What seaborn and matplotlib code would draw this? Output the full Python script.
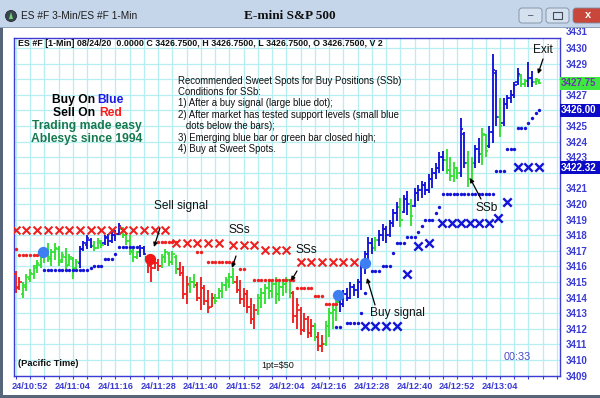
import numpy as np
import pandas as pd
import matplotlib
matplotlib.use("Agg")
import matplotlib.pyplot as plt
import matplotlib.transforms as mtrans
from matplotlib.patches import Rectangle, FancyBboxPatch, Circle, Polygon
import seaborn as sns

# ---------------- data ----------------
bar_high = [3415.7, 3415.3, 3415.0, 3415.5, 3415.8, 3416.1, 3416.4, 3416.8, 3417.0, 3417.5,
            3417.1, 3417.5, 3417.3, 3416.9, 3417.2, 3416.8, 3416.6, 3416.5, 3417.3, 3417.6,
            3418.0, 3417.8, 3417.6, 3417.8, 3417.7, 3418.0, 3418.1, 3418.2, 3418.3, 3418.8,
            3418.5, 3418.2, 3418.0, 3417.2, 3417.0, 3417.4, 3417.3, 3416.7, 3416.7, 3416.4,
            3416.5, 3416.8, 3417.1, 3416.9, 3417.0, 3416.7, 3416.3, 3416.0, 3415.4, 3415.3,
            3415.5, 3415.0, 3415.3, 3414.8, 3414.5, 3414.3, 3414.2, 3414.6, 3415.0, 3415.3,
            3415.6, 3415.9, 3415.4, 3415.1, 3414.6, 3414.5, 3414.0, 3413.6, 3414.2, 3414.6,
            3414.9, 3415.2, 3415.1, 3415.3, 3415.0, 3415.2, 3415.3, 3415.2, 3414.4, 3414.0,
            3413.4, 3413.0, 3412.8, 3412.6, 3412.4, 3411.8, 3411.6, 3412.5, 3413.3, 3413.6,
            3413.9, 3414.2, 3414.5, 3414.6, 3415.0, 3414.9, 3415.2, 3416.2, 3417.0, 3417.9,
            3417.8, 3417.9, 3418.3, 3418.7, 3418.6, 3419.0, 3419.7, 3420.1, 3420.4, 3420.6,
            3420.8, 3420.3, 3421.0, 3421.2, 3421.5, 3421.4, 3421.9, 3422.3, 3422.6, 3423.3,
            3423.4, 3423.5, 3423.0, 3422.7, 3422.4, 3425.5, 3424.6, 3423.4, 3423.0, 3423.8,
            3424.2, 3424.9, 3424.5, 3425.0, 3429.6, 3428.6, 3426.8, 3426.8, 3427.0, 3427.3,
            3427.8, 3428.7, 3428.3, 3428.0, 3429.1, 3428.5, 3428.1, 3428.0]
bar_low = [3414.3, 3414.5, 3414.0, 3414.4, 3415.0, 3415.2, 3415.6, 3415.9, 3416.2, 3416.3,
           3416.0, 3416.4, 3416.0, 3416.2, 3415.8, 3416.0, 3415.2, 3415.8, 3415.9, 3417.0,
           3417.1, 3417.2, 3417.0, 3417.1, 3417.2, 3417.4, 3417.3, 3417.5, 3417.6, 3418.0,
           3417.8, 3417.4, 3416.7, 3416.3, 3416.5, 3416.6, 3416.7, 3415.6, 3415.0, 3415.8,
           3415.7, 3415.9, 3416.2, 3416.0, 3416.1, 3415.5, 3415.4, 3413.9, 3413.6, 3414.3,
           3414.6, 3413.8, 3413.2, 3413.5, 3413.0, 3413.4, 3413.6, 3413.9, 3414.0, 3414.4,
           3414.6, 3414.9, 3414.3, 3413.6, 3413.4, 3413.0, 3412.3, 3412.0, 3412.9, 3413.3,
           3413.6, 3413.9, 3414.0, 3413.6, 3413.8, 3414.1, 3414.3, 3414.0, 3412.4, 3412.0,
           3411.6, 3411.8, 3411.4, 3411.5, 3411.2, 3410.6, 3410.5, 3410.9, 3411.5, 3412.0,
           3412.5, 3413.1, 3413.4, 3413.8, 3413.9, 3414.1, 3414.0, 3414.5, 3415.5, 3416.3,
           3416.8, 3417.0, 3417.3, 3417.6, 3417.5, 3417.9, 3418.5, 3418.9, 3418.5, 3419.4,
           3419.3, 3418.6, 3419.8, 3420.2, 3420.4, 3420.6, 3420.7, 3421.0, 3421.6, 3422.0,
           3422.1, 3421.9, 3421.5, 3421.4, 3421.6, 3421.7, 3422.3, 3421.1, 3421.4, 3422.3,
           3422.6, 3422.5, 3423.0, 3423.6, 3423.9, 3425.0, 3424.3, 3425.0, 3426.1, 3426.5,
           3426.8, 3427.6, 3427.5, 3427.5, 3427.5, 3427.5, 3427.6, 3427.7]
bar_open = [3415.5, 3414.7, 3414.2, 3414.7, 3415.2, 3415.5, 3415.9, 3416.1, 3416.6, 3416.8,
            3416.5, 3416.9, 3417.1, 3416.4, 3416.6, 3416.1, 3416.5, 3415.9, 3416.2, 3417.1,
            3417.4, 3417.7, 3417.3, 3417.2, 3417.5, 3417.5, 3417.8, 3417.6, 3418.0, 3418.1,
            3418.4, 3418.0, 3417.6, 3416.9, 3416.6, 3416.9, 3417.2, 3416.6, 3416.0, 3415.9,
            3416.2, 3416.0, 3416.6, 3416.8, 3416.3, 3416.6, 3415.8, 3415.6, 3414.2, 3414.8,
            3415.0, 3414.8, 3414.0, 3414.6, 3413.8, 3413.4, 3414.0, 3414.0, 3414.4, 3414.8,
            3415.0, 3415.3, 3415.0, 3414.5, 3413.9, 3414.2, 3413.4, 3412.6, 3413.2, 3414.0,
            3414.3, 3414.6, 3414.4, 3414.9, 3414.2, 3414.7, 3414.9, 3415.1, 3414.3, 3412.8,
            3413.2, 3411.9, 3412.6, 3411.7, 3412.2, 3411.5, 3410.9, 3411.0, 3412.2, 3413.0,
            3413.2, 3413.7, 3413.6, 3414.2, 3414.0, 3414.7, 3414.5, 3415.0, 3416.0, 3416.8,
            3417.5, 3417.2, 3417.7, 3418.0, 3418.4, 3418.0, 3418.8, 3419.4, 3419.8, 3419.5,
            3420.3, 3420.0, 3419.9, 3420.7, 3420.9, 3421.2, 3420.9, 3421.6, 3422.0, 3422.3,
            3423.0, 3422.8, 3422.2, 3421.8, 3422.3, 3422.0, 3424.5, 3422.6, 3421.6, 3422.6,
            3423.5, 3423.2, 3424.4, 3423.7, 3424.6, 3428.4, 3425.6, 3425.2, 3426.4, 3426.8,
            3427.0, 3427.8, 3428.2, 3427.7, 3427.9, 3428.1, 3427.8, 3427.9]
bar_close = [3414.6, 3415.0, 3414.8, 3415.3, 3415.6, 3416.0, 3416.2, 3416.6, 3416.8, 3416.6,
             3416.9, 3417.2, 3416.3, 3416.7, 3416.0, 3416.6, 3415.8, 3416.3, 3417.1, 3417.5,
             3417.8, 3417.3, 3417.2, 3417.6, 3417.4, 3417.9, 3417.6, 3418.0, 3418.1, 3418.6,
             3418.0, 3417.6, 3417.0, 3416.6, 3416.9, 3417.2, 3416.8, 3416.0, 3415.9, 3416.2,
             3416.0, 3416.6, 3416.9, 3416.3, 3416.8, 3415.8, 3415.6, 3414.2, 3414.9, 3415.0,
             3414.8, 3414.0, 3414.6, 3413.8, 3413.3, 3414.0, 3413.8, 3414.4, 3414.8, 3415.1,
             3415.3, 3415.0, 3414.5, 3413.9, 3414.2, 3413.4, 3412.6, 3413.2, 3414.0, 3414.3,
             3414.6, 3414.4, 3414.9, 3414.2, 3414.7, 3414.9, 3415.1, 3414.3, 3412.8, 3413.5,
             3411.9, 3412.6, 3411.7, 3412.2, 3411.5, 3410.9, 3411.0, 3412.2, 3413.0, 3413.2,
             3413.7, 3413.6, 3414.2, 3414.0, 3414.7, 3414.5, 3415.0, 3416.0, 3416.8, 3417.5,
             3417.2, 3417.7, 3418.0, 3418.4, 3418.0, 3418.8, 3419.4, 3419.8, 3419.0, 3420.3,
             3420.0, 3419.2, 3420.7, 3420.9, 3421.2, 3420.9, 3421.6, 3422.0, 3422.3, 3423.0,
             3422.8, 3422.2, 3421.8, 3422.3, 3422.0, 3424.8, 3422.6, 3421.6, 3422.6, 3423.5,
             3423.2, 3424.5, 3423.4, 3424.6, 3428.6, 3425.6, 3425.0, 3426.4, 3426.8, 3427.0,
             3427.6, 3428.3, 3427.7, 3427.9, 3428.1, 3427.8, 3428.0, 3427.75]
bar_color = list("rrgggggggg" "ggggggggbb" "bbgggbbbbb" "gggggbbrrr" "rgggggrrrg"
                 "grrrrrgggg" "ggrrrrrrgg" "ggggggggrr" "rrrrgrrggg" "gbbbbbbbbb"
                 "bgbbbbbbgb" "bgbbbbbbbb" "bggggbbggb" "bggbbbgbbb" "bbggbbgg")

# small support dots (blue) and resistance dots (red): minute index, price
support_x = [8, 9, 10, 11, 12, 13, 14, 15, 16, 17, 18, 19, 20, 21, 22, 23, 24, 25, 26, 27, 28,
             29, 30, 31, 32, 33, 34, 90, 91, 93, 94, 95, 96, 97, 98, 100, 101, 102, 103, 104, 105,
             106, 107, 108, 109, 110, 111, 112, 113, 114, 115, 116, 117, 118, 119, 120, 121, 122,
             123, 124, 125, 126, 127, 128, 129, 130, 131, 132, 133, 134, 135, 136, 137, 138, 139,
             140, 141, 142, 143, 144, 145, 146, 147]
support_y = [3415.75, 3415.75, 3415.75, 3415.75, 3415.75, 3415.75, 3415.75, 3415.75, 3415.75,
             3415.75, 3415.75, 3415.75, 3415.75, 3415.9, 3416.05, 3416.05, 3416.05, 3416.5,
             3416.5, 3416.5, 3416.8, 3417.27, 3417.27, 3417.27, 3417.27, 3417.27, 3417.27,
             3412.1, 3412.1, 3412.4, 3412.4, 3412.4, 3412.4, 3413.0, 3414.3, 3415.7, 3415.7,
             3415.7, 3416.0, 3416.0, 3416.0, 3416.85, 3417.5, 3417.5, 3417.5, 3417.9, 3417.9,
             3417.9, 3418.2, 3418.6, 3419.0, 3419.0, 3419.0, 3419.4, 3419.8, 3420.65, 3420.65,
             3420.65, 3420.65, 3420.65, 3420.65, 3420.65, 3420.65, 3420.65, 3420.65, 3420.65,
             3420.65, 3420.65, 3420.65, 3420.65, 3422.1, 3422.1, 3422.1, 3423.5, 3423.5, 3423.5,
             3424.9, 3424.9, 3424.9, 3425.2, 3425.5, 3425.8, 3426.0]
resist_x = [0, 1, 2, 3, 4, 5, 6, 7, 40, 41, 42, 43, 44, 45, 51, 52, 54, 55, 56, 57, 58, 59, 60,
            61, 63, 64, 67, 68, 69, 70, 71, 72, 73, 74, 75, 76, 77, 78, 79, 80, 81, 82, 83, 84,
            85, 86, 87, 88, 89, 90]
resist_y = [3417.1, 3416.7, 3416.7, 3416.7, 3416.7, 3416.7, 3416.7, 3416.7, 3417.55, 3417.55,
            3417.55, 3417.55, 3417.55, 3417.55, 3416.9, 3416.9, 3416.3, 3416.3, 3416.3, 3416.3,
            3416.3, 3416.3, 3416.3, 3416.3, 3415.8, 3415.8, 3415.15, 3415.15, 3415.15, 3415.15,
            3415.15, 3415.15, 3415.15, 3415.15, 3415.15, 3415.15, 3415.15, 3415.15, 3414.6,
            3414.6, 3414.6, 3414.6, 3414.6, 3414.1, 3414.1, 3414.1, 3413.6, 3413.6, 3413.6,
            3413.6]

# stop markers (crosses)
red_cross_x = [0, 3, 6, 9, 12, 15, 18, 21, 24, 27, 30, 33, 36, 39, 42, 45, 48, 51, 54, 57,
               61, 64, 67, 70, 73, 76, 80, 83, 86, 89, 92, 95]
red_cross_y = [3418.3, 3418.3, 3418.3, 3418.3, 3418.3, 3418.3, 3418.3, 3418.3, 3418.3, 3418.3,
               3418.3, 3418.3, 3418.3, 3418.3, 3418.3, 3417.52, 3417.52, 3417.52, 3417.52,
               3417.52, 3417.35, 3417.35, 3417.35, 3417.05, 3417.05, 3417.05, 3416.3, 3416.3,
               3416.3, 3416.3, 3416.3, 3416.3]
blue_cross_x = [98, 101, 104, 107, 110, 113, 116, 119.7, 122.4, 125.0, 127.6, 130.2, 132.8,
                135.3, 138, 141, 144, 147]
blue_cross_y = [3412.15, 3412.15, 3412.15, 3412.15, 3415.5, 3417.3, 3417.5, 3418.8, 3418.8,
                3418.8, 3418.8, 3418.8, 3418.8, 3419.1, 3420.1, 3422.4, 3422.4, 3422.4]

# signals
buy_sig_x = [7.7, 90.6, 98.1]
buy_sig_y = [3416.95, 3414.17, 3416.2]
sell_sig_x = [37.7]
sell_sig_y = [3416.45]

time_ticks = [4, 16, 28, 40, 52, 64, 76, 88, 100, 112, 124, 136]
time_labels = ["24/10:52", "24/11:04", "24/11:16", "24/11:28", "24/11:40", "24/11:52",
               "24/12:04", "24/12:16", "24/12:28", "24/12:40", "24/12:52", "24/13:04"]
price_ticks = list(range(3409, 3431))
price_boxes = [3427.75, 3426.00, 3422.32]

# ---------------- style ----------------
sns.set_theme(style="white")
plt.rcParams["font.family"] = ["Liberation Sans", "DejaVu Sans"]

W, H = 600, 398
fig = plt.figure(figsize=(W / 100, H / 100), dpi=100)
fig.patch.set_facecolor("white")


def P(x, y):
    return (x / W, 1 - y / H)


AX_BLUE = "#3c3cd4"
RED = "#ee2020"
GREEN = "#33e033"
BLUE = "#1414d8"
GRID = "#b6eef2"

ax = fig.add_axes([14 / W, 1 - 376 / H, 546 / W, 338 / H])
ax.set_facecolor("white")
ax.set_xlim(-0.5, 152.85)
ax.set_ylim(3408.97, 3430.64)

# grid
ax.set_xticks(time_ticks)
ax.set_xticklabels(time_labels)
ax.set_xticks(list(range(0, 153, 4)), minor=True)
ax.set_yticks(price_ticks)
ax.yaxis.tick_right()
hidden = {3422, 3426, 3428}
ax.set_yticklabels(["" if p in hidden else str(p) for p in price_ticks])
ax.grid(True, which="both", axis="x", color=GRID, lw=0.9, zorder=0)
ax.grid(True, which="major", axis="y", color=GRID, lw=0.9, zorder=0)
ax.set_axisbelow(True)
ax.tick_params(axis="x", which="both", direction="out", length=2.4, width=0.8,
               color=AX_BLUE, bottom=True)
ax.tick_params(axis="x", which="major", labelsize=6.6, labelcolor=AX_BLUE, pad=2.0)
ax.tick_params(axis="y", which="both", length=0, right=True, left=False,
               labelsize=7, labelcolor=AX_BLUE, pad=4.3)
for lab in ax.get_xticklabels() + ax.get_yticklabels():
    lab.set_fontweight("bold")
for sp in ax.spines.values():
    sp.set_color(AX_BLUE)
    sp.set_linewidth(1.0)

# ---------------- bars ----------------
bars = pd.DataFrame({"t": np.arange(len(bar_high)), "high": bar_high, "low": bar_low,
                     "open": bar_open, "close": bar_close, "col": bar_color})
cmap = {"r": RED, "g": GREEN, "b": BLUE}
for code, grp in bars.groupby("col"):
    c = cmap[code]
    ax.vlines(grp["t"], grp["low"], grp["high"], color=c, lw=1.35, zorder=3)
    ax.hlines(grp["open"], grp["t"] - 0.65, grp["t"], color=c, lw=1.2, zorder=3)
    ax.hlines(grp["close"], grp["t"], grp["t"] + 0.65, color=c, lw=1.2, zorder=3)

# ---------------- dots & crosses (seaborn) ----------------
sns.scatterplot(x=support_x, y=support_y, ax=ax, color=BLUE, s=6, linewidth=0,
                zorder=4, legend=False)
sns.scatterplot(x=resist_x, y=resist_y, ax=ax, color=RED, s=6, linewidth=0,
                zorder=4, legend=False)
sns.scatterplot(x=red_cross_x, y=red_cross_y, ax=ax, color=RED, marker="x", s=32,
                linewidth=1.5, zorder=5, legend=False)
sns.scatterplot(x=blue_cross_x, y=blue_cross_y, ax=ax, color=BLUE, marker="x", s=36,
                linewidth=1.7, zorder=5, legend=False)
sns.scatterplot(x=buy_sig_x, y=buy_sig_y, ax=ax, color="#3d7ff2", s=66, linewidth=0,
                zorder=6, legend=False)
sns.scatterplot(x=sell_sig_x, y=sell_sig_y, ax=ax, color="#f01818", s=66, linewidth=0,
                zorder=6, legend=False)
ax.set_xlabel("")
ax.set_ylabel("")

# price label above top & boxed current values
blend = mtrans.blended_transform_factory(ax.transAxes, ax.transData)
ax.annotate("3431", xy=(1, 3431), xycoords=blend, xytext=(4.3, 0),
            textcoords="offset points", va="center", ha="left", fontsize=7,
            fontweight="bold", color=AX_BLUE, annotation_clip=False)
box_styles = [("#3ee83e", "#6a3aa8"), ("#0c0cc8", "white"), ("#0c0cc8", "white")]
for val, (fc, tc) in zip(price_boxes, box_styles):
    ax.add_patch(Rectangle((1.0, val - 0.42), 0.08, 0.84, transform=blend,
                           facecolor=fc, edgecolor="none", clip_on=False, zorder=7))
    ax.annotate(f"{val:.2f}", xy=(1, val), xycoords=blend, xytext=(0.8, 0),
                textcoords="offset points", va="center", ha="left", fontsize=7,
                fontweight="bold", color=tc, annotation_clip=False, zorder=8)

# ---------------- window chrome ----------------
fig.patches.append(Rectangle(P(0, 28), 1, 28 / H, transform=fig.transFigure,
                             facecolor="#c6d6ea", edgecolor="none", zorder=0))
fig.patches.append(Rectangle(P(0, 28), 1, 1.2 / H, transform=fig.transFigure,
                             facecolor="#8ea2bb", edgecolor="none", zorder=0))
fig.patches.append(Rectangle((0, 0), 2.5 / W, 1 - 28 / H, transform=fig.transFigure,
                             facecolor="#56657a", edgecolor="none", zorder=0))
fig.patches.append(Rectangle((0, 0), 1, 3 / H, transform=fig.transFigure,
                             facecolor="#56657a", edgecolor="none", zorder=0))
# icon
fig.patches.append(Circle((11 / 100, (H - 16) / 100), 0.055, transform=fig.dpi_scale_trans,
                          facecolor="#3b4550", edgecolor="#20262c", lw=0.6, zorder=1))
fig.patches.append(Polygon([(9 / 100, (H - 19) / 100), (13 / 100, (H - 19) / 100),
                            (11 / 100, (H - 12) / 100)], closed=True,
                           transform=fig.dpi_scale_trans, facecolor="#6fd46f",
                           edgecolor="none", zorder=2))
# buttons
for x0, x1, fc in [(519, 542, "#d5e1ef"), (546, 569, "#d5e1ef"), (573, 602, "#c9463a")]:
    fig.patches.append(FancyBboxPatch((x0 / 100, (H - 23) / 100), (x1 - x0) / 100, 15 / 100,
                                      boxstyle="round,pad=0,rounding_size=0.03",
                                      transform=fig.dpi_scale_trans, facecolor=fc,
                                      edgecolor="#7c8ca2", lw=0.6, zorder=1))
fig.text(*P(530.5, 15.5), "\u2013", ha="center", va="center", fontsize=7, color="#404a58")
fig.patches.append(Rectangle(((553) / 100, (H - 19) / 100), 9 / 100, 7 / 100,
                             transform=fig.dpi_scale_trans, facecolor="none",
                             edgecolor="#404a58", lw=0.8, zorder=2))
fig.text(*P(588, 15.5), "x", ha="center", va="center", fontsize=8, color="white",
         fontweight="bold")
fig.text(*P(21, 16), "ES #F 3-Min/ES #F 1-Min", ha="left", va="center", fontsize=7.3,
         color="#1c1c1c")
fig.text(*P(290, 16), "E-mini S&P 500", ha="center", va="center", fontsize=9.5,
         fontweight="bold", family=["Liberation Serif", "DejaVu Serif"], color="#101010")

# ---------------- texts inside chart ----------------
fig.text(*P(18, 43), "ES #F [1-Min] 08/24/20  0.0000 C 3426.7500, H 3426.7500, "
         "L 3426.7500, O 3426.7500, V 2", ha="left", va="center", fontsize=6.4,
         fontweight="bold", color="#111111")

fig.text(*P(52, 100), "Buy On", ha="left", va="center", fontsize=8.7, fontweight="bold",
         color="black")
fig.text(*P(97, 100), "Blue", ha="left", va="center", fontsize=8.7, fontweight="bold",
         color="#1a1ae8")
fig.text(*P(53, 112.5), "Sell On", ha="left", va="center", fontsize=8.7, fontweight="bold",
         color="black")
fig.text(*P(99, 112.5), "Red", ha="left", va="center", fontsize=8.7, fontweight="bold",
         color="#ff1a1a")
fig.text(*P(87, 126), "Trading made easy", ha="center", va="center", fontsize=8.7,
         fontweight="bold", color="#15794f")
fig.text(*P(87, 139), "Ablesys since 1994", ha="center", va="center", fontsize=8.7,
         fontweight="bold", color="#15794f")

instr = ["Recommended Sweet Spots for Buy Positions (SSb)",
         "Conditions for SSb:",
         "1) After a buy signal (large blue dot);",
         "2) After market has tested support levels (small blue",
         "   dots below the bars);",
         "3) Emerging blue bar or green bar closed high;",
         "4) Buy at Sweet Spots."]
for k, line in enumerate(instr):
    fig.text(*P(178, 80.5 + 11.4 * k), line, ha="left", va="center", fontsize=6.9,
             color="#111111")

fig.text(*P(181, 206), "Sell signal", ha="center", va="center", fontsize=8.6, color="#111111")
fig.text(*P(239, 230), "SSs", ha="center", va="center", fontsize=8.6, color="#111111")
fig.text(*P(306, 250), "SSs", ha="center", va="center", fontsize=8.6, color="#111111")
fig.text(*P(397, 313), "Buy signal", ha="center", va="center", fontsize=8.6, color="#111111")
fig.text(*P(487, 208), "SSb", ha="center", va="center", fontsize=8.6, color="#111111")
fig.text(*P(543, 50), "Exit", ha="center", va="center", fontsize=8.6, color="#111111")
fig.text(*P(18, 364), "(Pacific Time)", ha="left", va="center", fontsize=6.7,
         fontweight="bold", color="#111111")
fig.text(*P(278, 366), "1pt=$50", ha="center", va="center", fontsize=6.5, color="#111111")
fig.text(*P(517, 357), "00:33", ha="center", va="center", fontsize=7.8, color="#4848c4")

arrows = [((160, 228), (154, 247)), ((236, 256), (232, 268)), ((297, 271), (291, 281)),
          ((375, 305), (367, 278)), ((481, 199), (470, 178)), ((543, 59), (538, 74))]
for tail, tip in arrows:
    ax.annotate("", xy=P(*tip), xycoords="figure fraction", xytext=P(*tail),
                textcoords="figure fraction", annotation_clip=False,
                arrowprops=dict(arrowstyle="-|>", color="black", lw=0.9,
                                mutation_scale=6, shrinkA=0, shrinkB=0), zorder=9)

fig.savefig("out.png", dpi=100, facecolor="white")
